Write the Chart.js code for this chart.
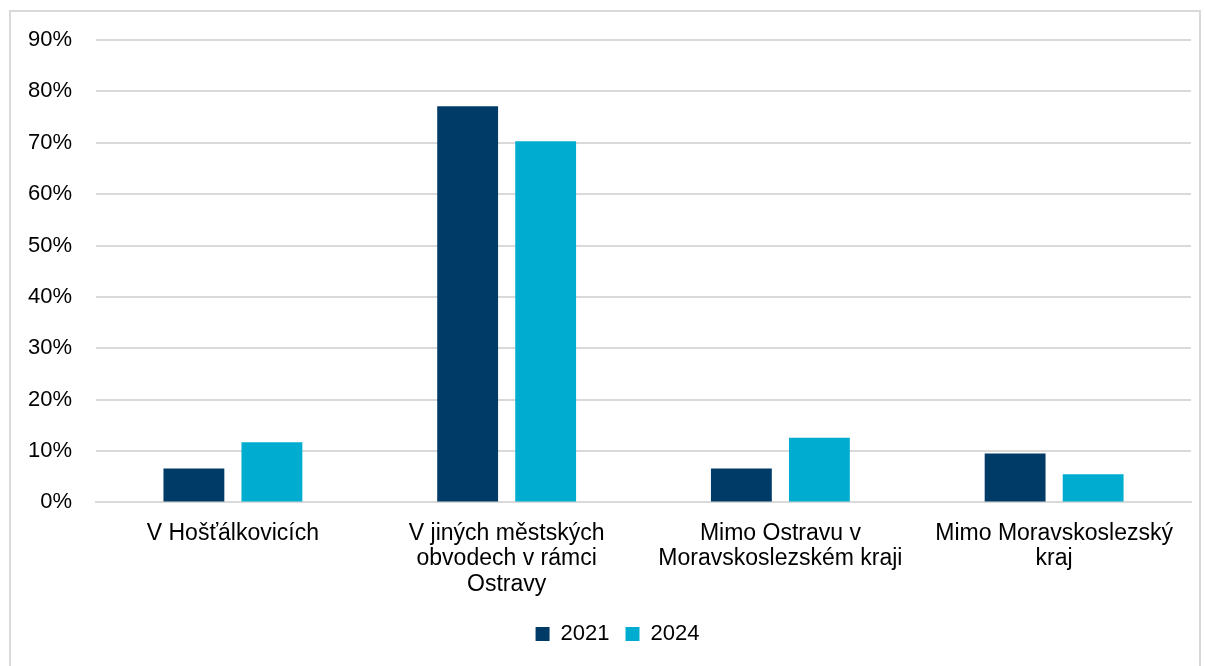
<!DOCTYPE html>
<html>
<head>
<meta charset="utf-8">
<script src="https://cdn.jsdelivr.net/npm/chart.js@4/dist/chart.umd.min.js"></script>
<style>
  html, body { margin: 0; padding: 0; background: #fff; overflow: hidden; }
  .frame {
    position: absolute; left: 9px; top: 10px; width: 1192px; height: 680px;
    border: 2px solid #d9d9d9; box-sizing: border-box;
  }
  #wrap { position: absolute; left: 0; top: 0; width: 1205px; height: 666px; }
</style>
</head>
<body>
<div class="frame"></div>
<div id="wrap"><canvas id="chart"></canvas></div>
<script>
const categories = [
    'V Hošťálkovicích',
    ['V jiných městských', 'obvodech v rámci', 'Ostravy'],
    ['Mimo Ostravu v', 'Moravskoslezském kraji'],
    ['Mimo Moravskoslezský', 'kraj']
];
const values2021 = [6.6, 77.1, 6.6, 9.5];
const values2024 = [11.7, 70.3, 12.6, 5.5];

// legenda je v originale trochu vpravo od stredu
const legendShift = {
    id: 'legendShift',
    afterLayout(chart) {
        chart.legend.left += 20;
        chart.legend.right += 20;
    }
};

const ctx = document.getElementById('chart');
new Chart(ctx, {
    type: 'bar',
    data: {
        labels: categories,
        datasets: [{
            label: '2021',
            data: values2021,
            backgroundColor: '#003b68',
            categoryPercentage: 0.57,
            barPercentage: 0.78
        }, {
            label: '2024',
            data: values2024,
            backgroundColor: '#00acd0',
            categoryPercentage: 0.57,
            barPercentage: 0.78
        }]
    },
    options: {
        responsive: true,
        maintainAspectRatio: false,
        animation: false,
        layout: {
            padding: { left: 4, right: 14, top: 40, bottom: 11 }
        },
        plugins: {
            legend: {
                position: 'bottom',
                labels: {
                    color: '#000',
                    font: { family: 'Liberation Sans', size: 22 },
                    boxWidth: 14,
                    boxHeight: 14,
                    padding: 16
                }
            },
            tooltip: { enabled: false }
        },
        scales: {
            x: {
                grid: { display: false },
                border: { color: '#d9d9d9', width: 2 },
                ticks: {
                    color: '#000',
                    font: { family: 'Liberation Sans', size: 23, lineHeight: 1.11 },
                    maxRotation: 0,
                    padding: 10
                }
            },
            y: {
                min: 0,
                max: 90,
                beginAtZero: true,
                grid: { color: '#d9d9d9', lineWidth: 2, drawTicks: false },
                border: { display: false },
                ticks: {
                    stepSize: 10,
                    color: '#000',
                    font: { family: 'Liberation Sans', size: 22 },
                    padding: 24,
                    callback: v => v + '%'
                }
            }
        }
    },
    plugins: [legendShift]
});
</script>
</body>
</html>
